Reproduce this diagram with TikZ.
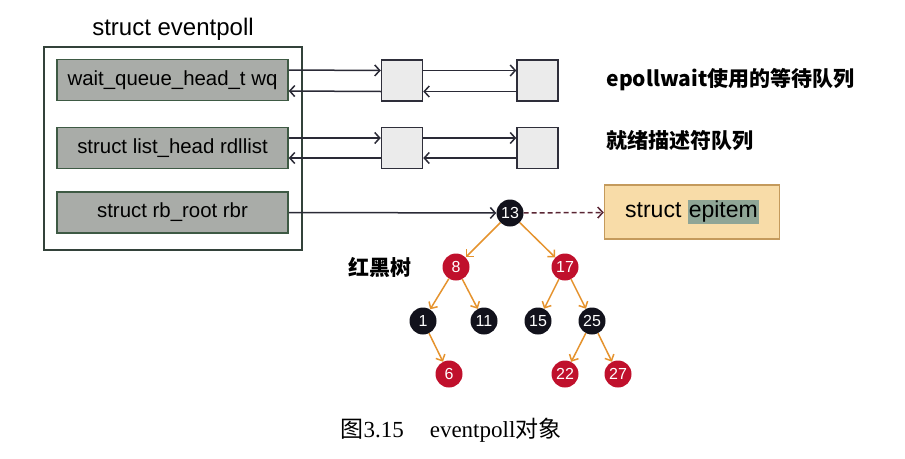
\documentclass[tikz,border=0pt]{standalone}
\usepackage{fontspec}
\setmainfont{Liberation Sans}
\newfontfamily\cjk{Noto Sans CJK SC}
\newfontfamily\capfont{Liberation Serif}
\usepackage{xcolor}
\usepackage{tikz}
\usetikzlibrary{positioning, arrows.meta, calc}
\definecolor{fieldgray}{HTML}{A9ACA8}
\definecolor{fieldedge}{HTML}{3E5A44}
\definecolor{outeredge}{HTML}{33423A}
\definecolor{cellgray}{HTML}{EBEBEB}
\definecolor{celledge}{HTML}{2E2E3A}
\definecolor{linkcol}{HTML}{2A2A36}
\definecolor{dashcol}{HTML}{5A2634}
\definecolor{itemfill}{HTML}{F8DCA8}
\definecolor{itemedge}{HTML}{C49A5C}
\definecolor{itemhl}{HTML}{8FA596}
\definecolor{rbred}{HTML}{C0102C}
\definecolor{rbblack}{HTML}{12121C}
\definecolor{branchcol}{HTML}{E5932E}

\begin{document}
\begin{tikzpicture}[x=1pt, y=-1pt,
  field/.style={draw=fieldedge, line width=1.5pt, fill=fieldgray, minimum width=231pt, minimum height=41pt, inner sep=0pt, font=\fontsize{20.4}{22}\selectfont},
  cell/.style={draw=celledge, line width=1.5pt, fill=cellgray, minimum size=41pt, inner sep=0pt},
  link/.style={draw=linkcol, line width=1.5pt, -{Straight Barb[length=5pt,width=11pt]}},
  rbnode/.style={circle, minimum size=27pt, inner sep=0pt, text=white, font=\fontsize{16}{16}\selectfont},
  rednode/.style={rbnode, fill=rbred},
  blacknode/.style={rbnode, fill=rbblack},
  branch/.style={draw=branchcol, line width=1.5pt, -{Straight Barb[length=5pt,width=10pt]}},
  zhlabel/.style={font=\cjk\bfseries\fontsize{21}{24}\selectfont},
]
\useasboundingbox (0,0) rectangle (905,458);

\node[font=\fontsize{24}{26}\selectfont] (title) at (173,29) {struct eventpoll};
\node[draw=outeredge, line width=1.5pt, minimum width=258pt, minimum height=203pt] (ep) at (173,148.5) {};
\node[field] (wq) at (172.5,80) {wait\_queue\_head\_t wq};
\node[field] (rdl) at (172.5,148) {struct list\_head rdllist};
\node[field] (rbr) at (172.5,212.5) {struct rb\_root rbr};

\node[cell] (w1) at (402,80.5) {};
\node[cell] (w2) at (537.5,80.5) {};
\node[cell] (r1) at (402,148) {};
\node[cell] (r2) at (537.5,148) {};

\draw[link] ([yshift=10]wq.east) -- ([yshift=10]w1.west);
\draw[link] ([yshift=10]w1.east) -- ([yshift=10]w2.west);
\draw[link] ([yshift=-11]w2.west) -- ([yshift=-11]w1.east);
\draw[link] ([yshift=-11]w1.west) -- ([yshift=-11]wq.east);
\draw[link] ([yshift=10]rdl.east) -- ([yshift=10]r1.west);
\draw[link] ([yshift=10]r1.east) -- ([yshift=10]r2.west);
\draw[link] ([yshift=-10]r2.west) -- ([yshift=-10]r1.east);
\draw[link] ([yshift=-10]r1.west) -- ([yshift=-10]rdl.east);

\node[zhlabel, anchor=west] (wqtext) at (603,80) {epollwait使用的等待队列};
\node[zhlabel, anchor=west] (rdltext) at (603,141) {就绪描述符队列};

\node[draw=itemedge, line width=1.5pt, fill=itemfill, minimum width=175pt, minimum height=54pt, font=\fontsize{23}{25}\selectfont] (epi) at (692,212) {struct \setlength{\fboxsep}{1pt}\colorbox{itemhl}{epitem}};

\node[blacknode] (n13) at (510,213) {13};
\node[rednode] (n8) at (456,267) {8};
\node[rednode] (n17) at (565,267) {17};
\node[blacknode] (n1) at (423,321) {1};
\node[blacknode] (n11) at (484,321) {11};
\node[blacknode] (n15) at (538,321) {15};
\node[blacknode] (n25) at (592,321) {25};
\node[rednode] (n6) at (449,374) {6};
\node[rednode] (n22) at (565,374) {22};
\node[rednode] (n27) at (618,374) {27};
\node[zhlabel] (rbtext) at (380,267) {红黑树};

\draw[link] (rbr.east) -- (n13);
\draw[link, draw=dashcol, dash pattern=on 5pt off 3pt] (n13) -- (epi);
\draw[branch] (n13) -- (n8);
\draw[branch] (n13) -- (n17);
\draw[branch] (n8) -- (n1);
\draw[branch] (n8) -- (n11);
\draw[branch] (n17) -- (n15);
\draw[branch] (n17) -- (n25);
\draw[branch] (n1) -- (n6);
\draw[branch] (n25) -- (n22);
\draw[branch] (n25) -- (n27);

\node[font=\fontsize{23}{25}\selectfont] (caption) at (451,430) {{\cjk 图}{\capfont 3.15}\hspace{26pt}{\capfont eventpoll}{\cjk 对象}};
\end{tikzpicture}
\end{document}
